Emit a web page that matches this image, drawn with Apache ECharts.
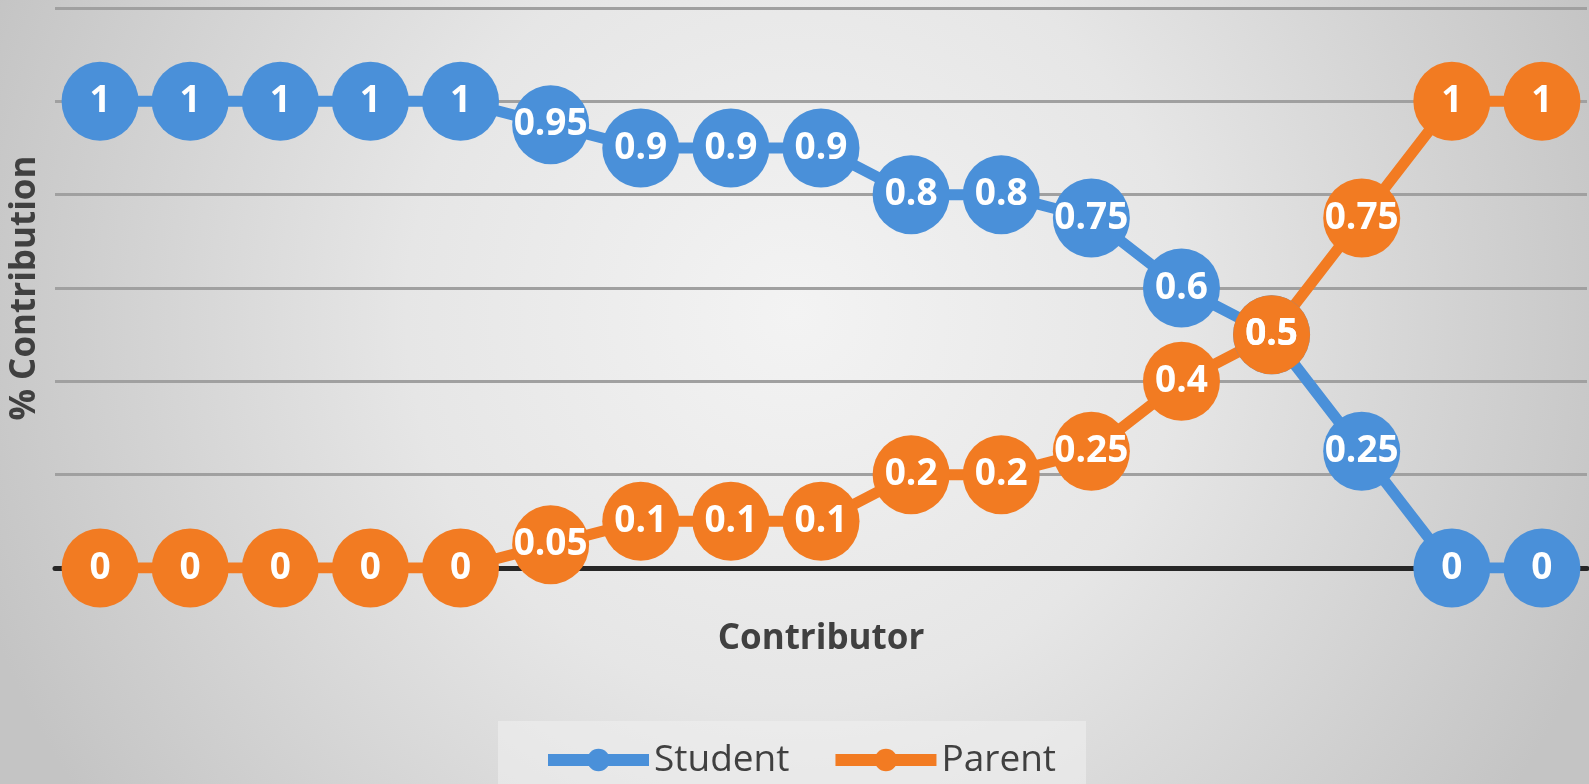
<!DOCTYPE html>
<html>
<head>
<meta charset="utf-8">
<script src="https://cdn.jsdelivr.net/npm/echarts@6/dist/echarts.min.js"></script>
<style>
html,body{margin:0;padding:0;background:#e0e0e0;}
#chart{width:1589px;height:784px;}
</style>
</head>
<body>
<div id="chart"></div>
<script>
const categories = ['1','2','3','4','5','6','7','8','9','10','11','12','13','14','15','16','17'];
const studentValues = [1, 1, 1, 1, 1, 0.95, 0.9, 0.9, 0.9, 0.8, 0.8, 0.75, 0.6, 0.5, 0.25, 0, 0];
const parentValues  = [0, 0, 0, 0, 0, 0.05, 0.1, 0.1, 0.1, 0.2, 0.2, 0.25, 0.4, 0.5, 0.75, 1, 1];
const seriesNames = ['Student', 'Parent'];
const yAxisName = '% Contribution';
const xAxisName = 'Contributor';

const chart = echarts.init(document.getElementById('chart'), null, {renderer: 'canvas'});

const labelStyle = {
  show: true,
  position: 'inside',
  color: '#ffffff',
  fontWeight: 'bold',
  fontSize: 37,
  fontFamily: 'Open Sans'
};

function makeSeries(name, values, color) {
  return {
    name: name,
    type: 'line',
    data: values,
    symbol: 'circle',
    symbolSize: [77, 79],
    showAllSymbol: true,
    lineStyle: {color: color, width: 11},
    itemStyle: {color: color, borderColor: color, borderWidth: 0},
    label: labelStyle,
    emphasis: {disabled: true},
    animation: false
  };
}

chart.setOption({
  animation: false,
  graphic: [{
    type: 'rect',
    z: -100,
    silent: true,
    shape: {x: 0, y: 0, width: 1589, height: 784},
    style: {
      fill: {
        type: 'radial', x: 0.5, y: 0.4, r: 1.1,
        colorStops: [
          {offset: 0, color: '#f3f3f3'},
          {offset: 0.45, color: '#e6e6e6'},
          {offset: 1, color: '#c4c4c4'}
        ]
      }
    }
  }],
  grid: {left: 53, right: 2, top: 8, bottom: 216, containLabel: false},
  xAxis: {
    type: 'category',
    data: categories,
    boundaryGap: true,
    axisLine: {show: true, lineStyle: {color: '#262626', width: 5}},
    axisTick: {show: false},
    axisLabel: {show: false},
    splitLine: {show: false},
    name: xAxisName,
    nameLocation: 'middle',
    nameGap: 54,
    nameTextStyle: {fontSize: 35, fontWeight: 'bold', color: '#404040', fontFamily: 'Open Sans'}
  },
  yAxis: {
    type: 'value',
    min: 0,
    max: 1.2,
    interval: 0.2,
    axisLine: {show: false},
    axisTick: {show: false},
    axisLabel: {show: false},
    splitLine: {show: true, lineStyle: {color: '#a0a0a0', width: 3}},
    name: yAxisName,
    nameLocation: 'middle',
    nameGap: 12,
    nameTextStyle: {fontSize: 35, fontWeight: 'bold', color: '#404040', fontFamily: 'Open Sans'}
  },
  legend: {
    data: seriesNames,
    left: 498,
    top: 721,
    padding: [17, 30, 30, 44],
    backgroundColor: 'rgba(240,240,240,0.55)',
    itemWidth: 101,
    itemHeight: 28,
    itemGap: 40,
    lineStyle: {width: 12},
    textStyle: {fontSize: 37, lineHeight: 44, color: '#404040', fontFamily: 'Open Sans'}
  },
  series: [
    makeSeries(seriesNames[0], studentValues, '#4A90D9'),
    makeSeries(seriesNames[1], parentValues, '#F27B22')
  ]
});
</script>
</body>
</html>
